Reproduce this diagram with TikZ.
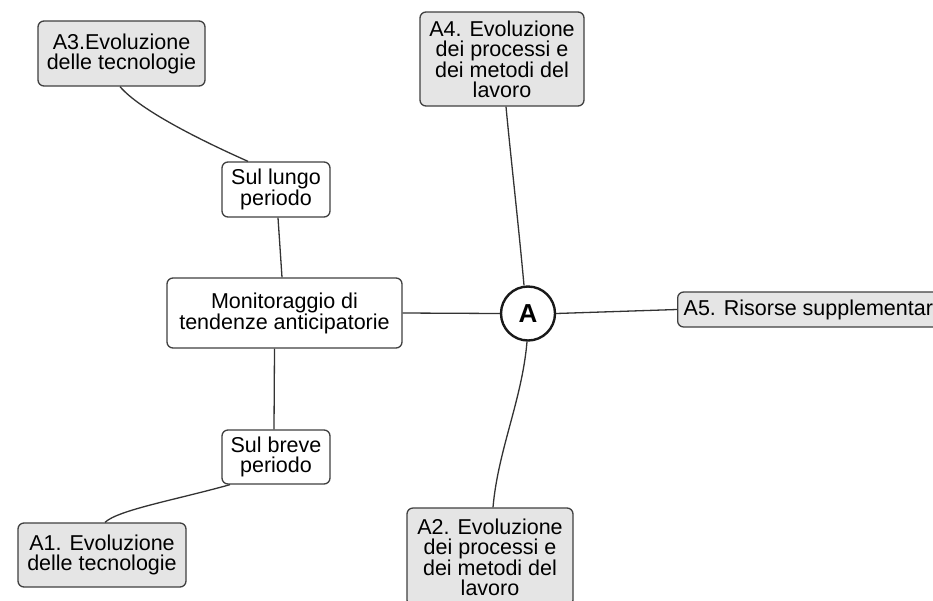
\documentclass[tikz,border=0pt]{standalone}
\usepackage{fontspec}
\setmainfont{Liberation Sans}
\begin{document}
\begin{tikzpicture}[x=1pt,y=-1pt,
  every node/.style={font=\fontsize{21.5}{20}\selectfont, text=black},
  box/.style={draw=black!75, line width=1.3pt, rounded corners=6pt,
    align=center, inner sep=1pt},
  topic/.style={box, fill=black!10},
  sub/.style={box, fill=white},
  hub/.style={circle, draw=black!90, line width=2.4pt, minimum size=54pt,
    inner sep=0pt, font=\fontsize{26}{26}\selectfont\bfseries, fill=white},
  link/.style={draw=black!80, line width=1.3pt}]
\useasboundingbox (0,0) rectangle (933,600);
\fill[white] (0,0) rectangle (933,600);

% central topic and hub
\node[sub, minimum width=235pt, minimum height=70pt] (mon) at (284.5,313)
  {Monitoraggio di\\tendenze anticipatorie};
\node[hub] (A) at (528,313.5) {A};

% time horizons
\node[sub, minimum width=108pt, minimum height=55pt] (lungo) at (276,189.5)
  {Sul lungo\\periodo};
\node[sub, minimum width=108pt, minimum height=54pt] (breve) at (276,457)
  {Sul breve\\periodo};

% leaf topics
\node[topic, minimum width=167pt, minimum height=65pt] (a3) at (121.5,53.5)
  {A3.Evoluzione\\delle tecnologie};
\node[topic, minimum width=168pt, minimum height=64pt] (a1) at (102,555)
  {A1. Evoluzione\\delle tecnologie};
\node[topic, minimum width=164pt, minimum height=94pt] (a4) at (502,59)
  {A4. Evoluzione\\dei processi e\\dei metodi del\\lavoro};
\node[topic, minimum width=166pt, minimum height=98pt] (a2) at (490,557)
  {A2. Evoluzione\\dei processi e\\dei metodi del\\lavoro};
\node[topic, anchor=west, minimum height=35pt, inner xsep=6pt] (a5) at (677,309.5)
  {A5. Risorse supplementari};

% connectors
\path[link] ([xshift=-1.5pt]a3.south) .. controls (140,110) and (200,140) .. ([xshift=-28pt]lungo.north);
\path[link] ([xshift=2pt]lungo.south) -- ([xshift=-2.5pt]mon.north);
\path[link] ([xshift=-10pt]mon.south) -- ([xshift=-2pt]breve.north);
\path[link] ([xshift=-46pt]breve.south) .. controls (175,500) and (118,510) .. ([xshift=3pt]a1.north);
\path[link] (mon.east) -- (A.west);
\path[link] (A.north) ++(-4pt,0) .. controls (518,220) and (510,150) .. ([xshift=4pt]a4.south);
\path[link] (A.east) -- (a5.west);
\path[link] (A.south) ++(-1pt,0) .. controls (522,400) and (498,450) .. ([xshift=3pt]a2.north);
\end{tikzpicture}
\end{document}
